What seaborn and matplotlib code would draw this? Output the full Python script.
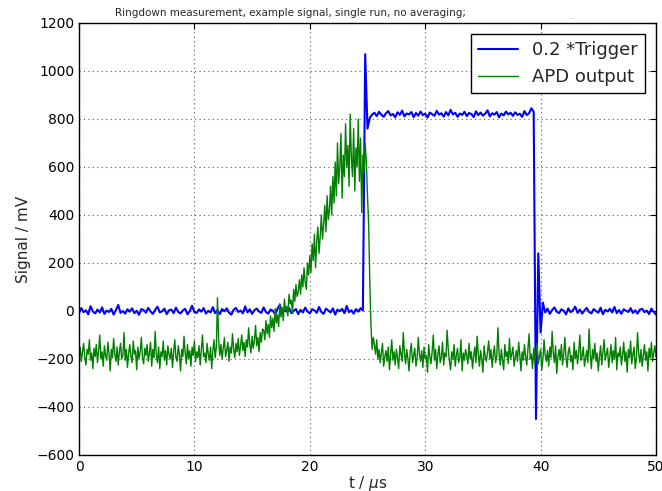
import numpy as np
import pandas as pd
import seaborn as sns
import matplotlib.pyplot as plt

# 0.2 * trigger, sampled every 0.2 us from 0 to 50 us
trigger = [
    -8, 12, -5, 3, -14, 20, -2, -10, 6, -6, 15, -12, 2, -4, 9, -15, 4, 25, -8, 0,
    -11, 7, -3, 11, -9, 1, -16, 8, 4, -7, 13, -2, -12, 5, 18, -6, -1, 10, -13, 3,
    6, -9, 14, -4, -10, 2, 9, -14, 0, 22, -5, -8, 7, -3, 12, -11, 1, -6, 16, -9,
    4, -13, 8, -1, 11, -7, -15, 5, 13, -4, 2, -10, 19, -6, 7, -12, 3, 10, -2, -8,
    15, -5, -11, 6, 1, -14, 9, 26, -7, 4, -3, 12, -9, 0, 8, -13, 5, -6, 14, -2,
    -10, 7, 3, -8, 17, -4, -12, 10, 2, -6, 11, -15, 6, -1, 9, -9, 21, -5, 3, -11,
    8, -3, 12, 2, 1070, 760, 805, 818,
    826, 812, 830, 818, 809, 824, 833, 815, 821, 807, 828, 817, 835, 811, 823, 819, 829, 808, 825, 814,
    831, 816, 822, 806, 827, 820, 813, 834, 818, 824, 810, 829, 815, 838, 819, 826, 809, 823, 817, 830,
    812, 825, 821, 808, 832, 816, 827, 814, 822, 836, 811, 824, 818, 829, 807, 823, 815, 831, 819, 826,
    813, 828, 817, 822, 809, 833, 816, 824, 845,
    830, -450, 240, -90, 35,
    -6, 10, -12, 4, 15, -3, -9, 7, 1, -14, 11, -5, 3, 18, -8, 6, -11, 2, 13, -4,
    -10, 8, 0, -7, 14, -13, 5, -2, 9, -6, 17, -9, 4, -12, 7, 1, -4, 12, -8, 3,
    -11, 6, 9, -5, 2, -13, 10, -3, -15,
]

# APD output, sampled every 0.1 us from 0 to 50 us
apd = [
    # 0 - 11.9 us
    -185, -150, -210, -170, -135, -195, -225, -160, -180, -120, -205, -175, -240, -155, -190, -140, -215, -165, -100, -200,
    -170, -230, -145, -185, -205, -130, -175, -250, -160, -195, -115, -180, -210, -150, -225, -170, -135, -200, -185, -90,
    -205, -160, -235, -175, -140, -190, -215, -125, -180, -165, -245, -150, -200, -170, -110, -195, -220, -155, -185, -140,
    -210, -175, -130, -230, -160, -195, -85, -180, -215, -150, -240, -170, -190, -125, -205, -165, -225, -145, -180, -200,
    -155, -235, -170, -120, -195, -210, -145, -180, -250, -160, -190, -105, -175, -220, -140, -200, -165, -230, -150, -185,
    -125, -210, -170, -195, -145, -225, -160, -100, -190, -175, -215, -135, -180, -205, -150, -240, -165, -120, -195, -150,
    # 12.0 us spike
    55,
    # 12.1 - 15.9 us
    -120, -185, -140, -200, -155, -110, -190, -165, -130, -210, -150, -175, -95, -160, -195, -135, -170, -115, -185, -145,
    -100, -165, -130, -190, -120, -150, -70, -140, -175, -105, -155, -125, -60, -145, -110, -170, -90, -130, -75,
    # 16.0 - 19.9 us
    -80, -120, -40, -95, -55, -110, -20, -70, -30, -85, 10, -50, -15, -65, 30, -25, 15, -40, 50, 0,
    20, -20, 70, 30, 45, -10, 90, 40, 110, 60, 80, 130, 70, 150, 100, 180, 120, 90, 200, 150,
    # 20.0 - 24.9 us
    230, 160, 280, 210, 320, 180, 290, 350, 240, 310,
    400, 300, 360, 440, 330, 480, 380, 420, 520, 400,
    560, 450, 620, 480, 700, 530, 600, 740, 470, 650,
    560, 780, 600, 690, 520, 820, 640, 560, 760, 500,
    680, 600, 800, 540, 720, 410, 650, 580, 700, 620,
    # 25.0 - 25.5 us
    480, 360, 120, -60, -160, -110,
    # 25.6 - 50.0 us
    -140, -180, -120, -200, -160, -215, -175, -135, -230, -190, -165, -210, -150, -245, -185, -120, -205, -170, -225, -160,
    -195, -240, -145, -180, -210, -90, -175, -220, -160, -200, -250, -170, -135, -215, -185, -155, -230, -195, -110, -180,
    -210, -165, -235, -150, -200, -185, -255, -140, -190, -220, -170, -100, -205, -160, -240, -180, -145, -215, -195, -130,
    -225, -175, -190, -80, -160, -210, -245, -170, -200, -140, -230, -185, -155, -215, -195, -120, -250, -175, -205, -160,
    -185, -220, -135, -200, -170, -240, -190, -150, -215, -105, -180, -230, -165, -200, -255, -145, -190, -210, -170, -125,
    -200, -160, -235, -180, -145, -215, -190, -70, -175, -225, -160, -205, -245, -140, -190, -170, -220, -115, -200, -180,
    -150, -230, -195, -165, -210, -130, -185, -250, -170, -205, -140, -190, -225, -160, -95, -200, -180, -240, -155, -215,
    -175, -135, -220, -190, -160, -245, -200, -120, -185, -210, -165, -230, -150, -195, -85, -175, -215, -145, -260, -190,
    -160, -205, -140, -225, -180, -110, -195, -235, -170, -150, -210, -185, -245, -130, -200, -165, -220, -175, -100, -205,
    -185, -150, -230, -195, -165, -215, -75, -180, -240, -160, -200, -135, -210, -175, -250, -190, -145, -225, -170, -120,
    -205, -180, -155, -235, -190, -140, -215, -165, -200, -110, -245, -175, -190, -150, -225, -185, -130, -210, -170, -255,
    -160, -195, -125, -220, -180, -150, -240, -200, -90, -175, -215, -160, -230, -185, -140, -205, -170, -250, -155, -195,
    -130, -210, -175, -145, -190,
]

print(len(trigger), len(apd))
t = np.arange(len(trigger)) * 0.2
t_apd = np.arange(len(apd)) * 0.1

sns.set_style('white')
plt.rcParams['font.family'] = ['DejaVu Sans']

fig = plt.figure(figsize=(6.62, 4.91), dpi=100)
ax = fig.add_axes([79 / 662, 1 - 455 / 491, 577 / 662, 432 / 491])

sns.lineplot(x=t, y=trigger, ax=ax, color='#0000ff', linewidth=1.5,
             label='0.2 *Trigger', estimator=None, sort=False)
sns.lineplot(x=t_apd, y=apd, ax=ax, color='#008000', linewidth=1.0,
             label='APD output', estimator=None, sort=False)

ax.set_xlim(0, 50)
ax.set_ylim(-600, 1200)
ax.set_xticks([0, 10, 20, 30, 40, 50])
ax.set_yticks(range(-600, 1201, 200))
ax.grid(True, linestyle=(0, (1, 3)), color='0.35', linewidth=0.8)
ax.tick_params(direction='in', top=True, right=True, length=4, width=0.8,
               labelsize=10, colors='black')
for s in ax.spines.values():
    s.set_color('black')
    s.set_linewidth(1.0)

ax.set_xlabel('t / $\\mu$s', fontsize=11, labelpad=0)
ax.set_ylabel('Signal / mV', fontsize=11)

leg = ax.legend(loc='upper right', fontsize=13, fancybox=False, framealpha=1,
                edgecolor='black', borderaxespad=0.6, handlelength=2.2)
leg.get_frame().set_linewidth(1.0)

fig.text(115 / 662, 1 - 13 / 491,
         'Ringdown measurement, example signal, single run, no averaging;',
         fontsize=7.5, ha='left', va='center')
fig.text(572 / 662, 1 - 16 / 491, '_', fontsize=5, color='#bbbbbb',
         ha='center', va='center')

fig.savefig('out.png', dpi=100)
